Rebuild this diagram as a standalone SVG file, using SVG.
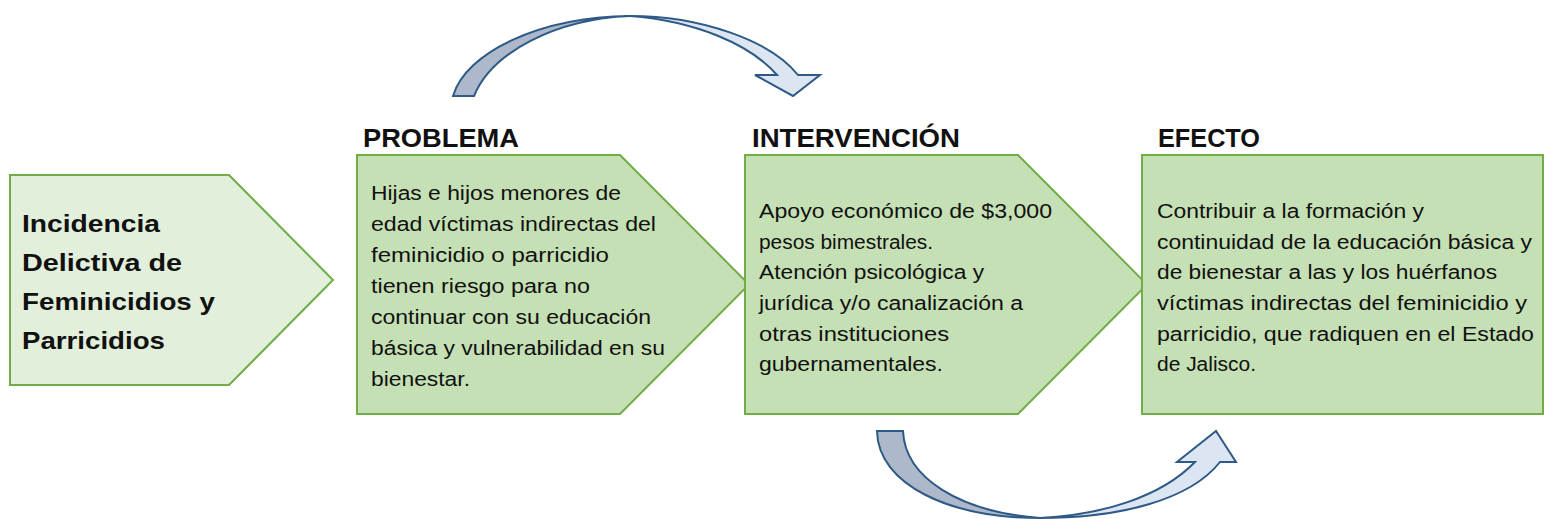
<svg xmlns="http://www.w3.org/2000/svg" width="1544" height="519" viewBox="0 0 1544 519">
<style>
.box{stroke:#70ad47;stroke-width:2}
.b1{fill:#e2efda}
.b2{fill:#c5e0b4}
.t{font-family:"Liberation Sans",Arial,sans-serif;font-size:20px;fill:#111}
.tb{font-family:"Liberation Sans",Arial,sans-serif;font-size:24px;font-weight:bold;fill:#111}
.h{font-family:"Liberation Sans",Arial,sans-serif;font-size:26px;font-weight:bold;fill:#111}
.dark{fill:#adb9ca;stroke:#2f5a87;stroke-width:2;stroke-linejoin:miter}
.light{fill:#dce6f2;stroke:#2f5a87;stroke-width:2;stroke-linejoin:miter}
</style>
<rect width="1544" height="519" fill="#fff"/>
<g id="headers">
<text class="h" x="363" y="147" textLength="156" lengthAdjust="spacingAndGlyphs">PROBLEMA</text>
<text class="h" x="752" y="147" textLength="208" lengthAdjust="spacingAndGlyphs">INTERVENCIÓN</text>
<text class="h" x="1158" y="147" textLength="102" lengthAdjust="spacingAndGlyphs">EFECTO</text>
</g>
<g id="node-incidencia">
<path class="box b1" d="M10,175 H229 L333,280 L229,385 H10 Z"/>
<text class="tb" x="22" y="232" textLength="138" lengthAdjust="spacingAndGlyphs">Incidencia</text>
<text class="tb" x="22" y="271" textLength="160" lengthAdjust="spacingAndGlyphs">Delictiva de</text>
<text class="tb" x="22" y="310" textLength="193" lengthAdjust="spacingAndGlyphs">Feminicidios y</text>
<text class="tb" x="22" y="349" textLength="143" lengthAdjust="spacingAndGlyphs">Parricidios</text>
</g>
<g id="node-problema">
<path class="box b2" d="M357,155 H620 L749,284.5 L620,414 H357 Z"/>
<text class="t" x="371" y="200" textLength="250" lengthAdjust="spacingAndGlyphs">Hijas e hijos menores de</text>
<text class="t" x="371" y="231" textLength="285" lengthAdjust="spacingAndGlyphs">edad víctimas indirectas del</text>
<text class="t" x="371" y="262" textLength="238" lengthAdjust="spacingAndGlyphs">feminicidio o parricidio</text>
<text class="t" x="371" y="293" textLength="219" lengthAdjust="spacingAndGlyphs">tienen riesgo para no</text>
<text class="t" x="371" y="324" textLength="280" lengthAdjust="spacingAndGlyphs">continuar con su educación</text>
<text class="t" x="371" y="355" textLength="294" lengthAdjust="spacingAndGlyphs">básica y vulnerabilidad en su</text>
<text class="t" x="371" y="386" textLength="99" lengthAdjust="spacingAndGlyphs">bienestar.</text>
</g>
<g id="node-intervencion">
<path class="box b2" d="M745,155 H1018 L1147,284.5 L1018,414 H745 Z"/>
<text class="t" x="759" y="218" textLength="293" lengthAdjust="spacingAndGlyphs">Apoyo económico de $3,000</text>
<text class="t" x="759" y="249" textLength="174" lengthAdjust="spacingAndGlyphs">pesos bimestrales.</text>
<text class="t" x="759" y="279" textLength="225" lengthAdjust="spacingAndGlyphs">Atención psicológica y</text>
<text class="t" x="759" y="310" textLength="264" lengthAdjust="spacingAndGlyphs">jurídica y/o canalización a</text>
<text class="t" x="759" y="341" textLength="190" lengthAdjust="spacingAndGlyphs">otras instituciones</text>
<text class="t" x="759" y="371" textLength="184" lengthAdjust="spacingAndGlyphs">gubernamentales.</text>
</g>
<g id="node-efecto">
<rect class="box b2" x="1142" y="155" width="401" height="259"/>
<text class="t" x="1157" y="218" textLength="267" lengthAdjust="spacingAndGlyphs">Contribuir a la formación y</text>
<text class="t" x="1157" y="249" textLength="375" lengthAdjust="spacingAndGlyphs">continuidad de la educación básica y</text>
<text class="t" x="1157" y="279" textLength="340" lengthAdjust="spacingAndGlyphs">de bienestar a las y los huérfanos</text>
<text class="t" x="1157" y="310" textLength="370" lengthAdjust="spacingAndGlyphs">víctimas indirectas del feminicidio y</text>
<text class="t" x="1157" y="341" textLength="377" lengthAdjust="spacingAndGlyphs">parricidio, que radiquen en el Estado</text>
<text class="t" x="1157" y="371" textLength="99" lengthAdjust="spacingAndGlyphs">de Jalisco.</text>
</g>
<g id="connectors">
<g id="arrow-top">
<path class="dark" d="M453,96 C466,52 540,17 630,16 C556,19 492,52 474,96 Z"/>
<path class="light" d="M630,16 C700,16 770,40 798,75 H820 L793,96 L755,75 H777 C750,44 695,21 630,16 Z"/>
</g>
<g id="arrow-bottom">
<path class="dark" d="M877,431 C878,485 950,518 1040,518 C960,512 905,478 903,431 Z"/>
<path class="light" d="M1040,518 C1120,518 1190,500 1220,462 H1236 L1216,431 L1177,462 H1195 C1160,498 1100,515 1040,518 Z"/>
</g>
</g>
</svg>
